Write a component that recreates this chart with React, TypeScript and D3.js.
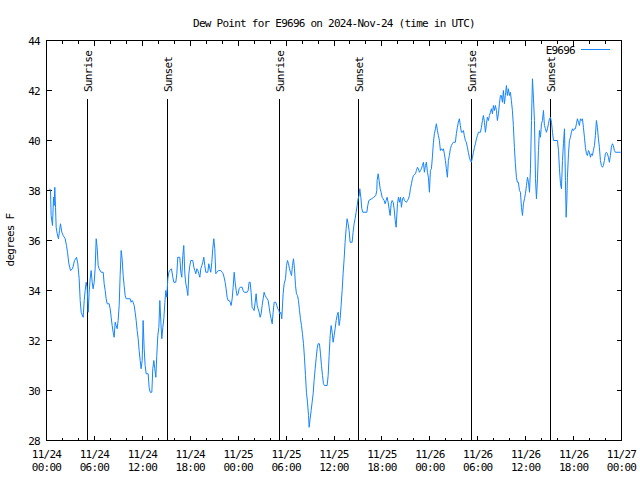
import React from "react";
import * as d3 from "d3";

const title = "Dew Point for E9696 on 2024-Nov-24 (time in UTC)";
const seriesName = "E9696";
const yLabel = "degrees F";
const yTicks = [28, 30, 32, 34, 36, 38, 40, 42, 44];
const xMajorTicks = [0, 6, 12, 18, 24, 30, 36, 42, 48, 54, 60, 66, 72];
const xTickDates = ["11/24", "11/24", "11/24", "11/24", "11/25", "11/25", "11/25", "11/25", "11/26", "11/26", "11/26", "11/26", "11/27"];
const xTickTimes = ["00:00", "06:00", "12:00", "18:00", "00:00", "06:00", "12:00", "18:00", "00:00", "06:00", "12:00", "18:00", "00:00"];
const sunHours = [5.1, 15.12, 29.14, 39.03, 53.19, 63.08];
const sunLabels = ["Sunrise", "Sunset", "Sunrise", "Sunset", "Sunrise", "Sunset"];

// hours since 2024-11-24 00:00 UTC
const hours = [
  0.42, 0.5, 0.58, 0.75, 0.88, 0.96, 1.04, 1.13, 1.21, 1.34, 1.5, 1.63, 1.75, 1.92, 2.09, 2.34, 2.5, 2.63, 2.8, 3.01,
  3.26, 3.51, 3.76, 3.92, 4.09, 4.22, 4.34, 4.59, 4.72, 4.84, 4.97, 5.09, 5.22, 5.34, 5.47, 5.59, 5.72, 5.84, 5.97, 6.09,
  6.22, 6.34, 6.47, 6.59, 6.84, 7.1, 7.22, 7.35, 7.47, 7.6, 7.85, 7.97, 8.1, 8.22, 8.35, 8.47, 8.6, 8.72, 8.85, 8.97,
  9.1, 9.22, 9.35, 9.47, 9.6, 9.72, 9.85, 9.98, 10.48, 10.6, 10.73, 10.85, 10.98, 11.1, 11.23, 11.35, 11.48, 11.6, 11.73, 11.85,
  11.98, 12.1, 12.23, 12.35, 12.48, 12.73, 12.85, 12.98, 13.19, 13.31, 13.44, 13.56, 13.69, 13.81, 13.94, 14.07, 14.19, 14.32, 14.44, 14.57,
  14.69, 14.82, 14.94, 15.07, 15.19, 15.32, 15.44, 15.65, 15.82, 15.94, 16.19, 16.32, 16.44, 16.69, 16.82, 16.94, 17.07, 17.19, 17.32, 17.45,
  17.57, 17.7, 17.82, 17.95, 18.07, 18.32, 18.45, 18.57, 18.7, 18.82, 18.95, 19.07, 19.2, 19.32, 19.45, 19.57, 19.7, 19.82, 19.95, 20.2,
  20.32, 20.45, 20.57, 20.7, 20.82, 20.95, 21.07, 21.2, 21.32, 21.57, 21.82, 21.99, 22.12, 22.24, 22.37, 22.49, 22.62, 22.74, 22.87, 23.0,
  23.12, 23.25, 23.37, 23.5, 23.62, 23.75, 23.87, 24.0, 24.12, 24.25, 24.5, 24.62, 24.75, 25.12, 25.25, 25.37, 25.5, 25.62, 25.75, 25.87,
  26.0, 26.13, 26.25, 26.38, 26.5, 26.63, 26.75, 26.88, 27.0, 27.13, 27.25, 27.38, 27.5, 27.63, 27.76, 27.88, 28.0, 28.13, 28.26, 28.38,
  28.51, 28.71, 28.84, 28.96, 29.09, 29.21, 29.34, 29.46, 29.63, 29.76, 29.93, 30.05, 30.18, 30.3, 30.43, 30.55, 30.68, 30.8, 30.93, 31.05,
  31.18, 31.3, 31.43, 31.55, 31.68, 31.8, 31.93, 32.05, 32.18, 32.3, 32.43, 32.55, 32.68, 32.81, 32.89, 33.01, 33.14, 33.26, 33.39, 33.51,
  33.64, 33.76, 33.89, 34.01, 34.18, 34.31, 34.43, 34.56, 34.68, 34.81, 35.14, 35.27, 35.39, 35.52, 35.64, 35.77, 35.89, 36.02, 36.14, 36.27,
  36.39, 36.52, 36.64, 36.77, 36.89, 37.02, 37.14, 37.27, 37.39, 37.52, 37.64, 37.77, 37.89, 38.02, 38.27, 38.39, 38.52, 38.64, 38.77, 38.9,
  39.02, 39.15, 39.23, 39.36, 39.48, 39.61, 40.11, 40.23, 40.36, 40.73, 40.98, 41.23, 41.36, 41.4, 41.53, 41.65, 41.78, 41.9, 42.03, 42.15,
  42.28, 42.4, 42.53, 42.65, 42.78, 42.9, 43.03, 43.16, 43.28, 43.41, 43.53, 43.66, 43.78, 43.95, 44.07, 44.2, 44.32, 44.45, 44.57, 44.7,
  44.82, 45.07, 45.2, 45.32, 45.45, 45.57, 45.7, 45.82, 45.95, 46.2, 46.32, 46.45, 46.57, 46.7, 46.82, 46.95, 47.07, 47.2, 47.32, 47.45,
  47.57, 47.7, 47.82, 47.95, 48.07, 48.2, 48.32, 48.45, 48.57, 48.7, 48.82, 48.95, 49.07, 49.2, 49.32, 49.45, 49.57, 49.7, 49.82, 49.95,
  50.07, 50.2, 50.32, 50.45, 50.57, 50.7, 50.82, 50.95, 51.2, 51.32, 51.45, 51.57, 51.7, 51.82, 51.95, 52.07, 52.2, 52.32, 52.45, 52.57,
  52.7, 52.82, 52.95, 53.07, 53.2, 53.34, 53.46, 53.59, 53.71, 53.84, 53.96, 54.09, 54.34, 54.46, 54.59, 54.71, 54.84, 54.96, 55.09, 55.21,
  55.34, 55.46, 55.59, 55.71, 55.84, 55.96, 56.09, 56.21, 56.34, 56.46, 56.59, 56.71, 56.84, 56.96, 57.09, 57.21, 57.34, 57.46, 57.59, 57.71,
  57.84, 57.96, 58.09, 58.21, 58.34, 58.46, 58.59, 58.71, 58.84, 58.96, 59.09, 59.22, 59.35, 59.47, 59.6, 59.72, 59.85, 59.97, 60.1, 60.23,
  60.35, 60.48, 60.6, 60.73, 60.85, 60.98, 61.1, 61.23, 61.35, 61.48, 61.6, 61.73, 61.85, 61.98, 62.1, 62.23, 62.35, 62.48, 62.6, 62.73,
  62.85, 62.98, 63.1, 63.23, 63.36, 63.48, 63.98, 64.11, 64.23, 64.36, 64.48, 64.61, 64.73, 64.86, 64.98, 65.07, 65.15, 65.23, 65.36, 65.48,
  65.61, 65.73, 65.86, 65.98, 66.11, 66.23, 66.36, 66.48, 66.61, 66.73, 66.86, 66.98, 67.11, 67.23, 67.36, 67.48, 67.61, 67.73, 67.86, 67.98,
  68.11, 68.23, 68.36, 68.48, 68.61, 68.73, 68.86, 68.98, 69.11, 69.23, 69.36, 69.48, 69.61, 69.73, 69.86, 69.98, 70.11, 70.23, 70.36, 70.48,
  70.61, 70.73, 70.86, 70.98, 71.11, 71.23, 71.9,
];

const dewF = [
  38.07, 38.0, 37.0, 36.6, 37.73, 37.4, 38.13, 37.33, 36.53, 36.27, 36.07, 36.4, 36.67, 36.33, 36.2, 36.07, 35.8, 35.53, 35.07, 34.8,
  34.87, 35.2, 35.33, 35.07, 34.47, 33.6, 33.13, 32.93, 33.6, 34.0, 34.33, 34.13, 33.13, 33.93, 34.47, 34.8, 34.33, 34.07, 34.33, 34.87,
  36.07, 35.73, 35.0, 34.87, 34.73, 34.73, 34.27, 34.0, 33.67, 33.47, 33.47, 33.27, 32.93, 32.6, 32.33, 32.13, 32.73, 32.6, 32.47, 32.8,
  33.4, 34.6, 35.6, 35.27, 34.6, 34.2, 33.8, 33.67, 33.67, 33.53, 33.6, 33.53, 33.4, 33.13, 32.8, 32.4, 32.07, 31.6, 31.2, 30.87,
  31.2, 32.8, 31.67, 31.0, 30.67, 30.67, 30.13, 29.93, 29.93, 30.87, 31.2, 30.87, 30.53, 31.4, 32.2, 32.53, 33.6, 32.73, 32.07, 32.53,
  32.87, 33.53, 34.0, 33.73, 34.47, 34.73, 34.8, 34.87, 34.53, 34.33, 34.33, 34.67, 35.33, 35.33, 34.73, 34.53, 35.4, 35.8, 34.67, 34.27,
  34.07, 33.8, 34.67, 35.0, 35.2, 35.2, 34.93, 34.8, 34.67, 34.87, 34.8, 34.67, 34.53, 34.87, 35.0, 35.13, 35.33, 35.0, 34.73, 34.73,
  35.07, 34.87, 34.73, 35.13, 35.67, 36.07, 35.67, 34.67, 34.73, 34.8, 34.8, 34.73, 34.67, 34.53, 34.33, 34.07, 33.73, 33.6, 33.6, 33.53,
  33.4, 33.67, 34.13, 34.73, 34.33, 34.0, 33.8, 33.87, 34.07, 34.13, 34.13, 34.0, 33.93, 33.93, 34.0, 34.33, 34.33, 33.93, 33.33, 33.27,
  33.2, 33.53, 33.87, 33.4, 33.27, 33.13, 32.93, 33.07, 33.4, 33.67, 33.93, 33.8, 33.73, 33.67, 33.6, 33.33, 33.07, 32.87, 32.67, 33.13,
  33.53, 33.53, 33.4, 33.27, 33.2, 33.07, 33.13, 32.87, 33.87, 34.27, 34.47, 35.0, 35.2, 35.07, 34.87, 34.73, 34.6, 35.0, 35.27, 34.87,
  34.2, 33.87, 33.8, 33.6, 33.2, 32.87, 32.6, 32.27, 31.87, 31.33, 30.6, 29.93, 29.53, 29.0, 28.53, 28.87, 29.2, 29.53, 29.87, 30.4,
  30.87, 31.27, 31.67, 31.87, 31.87, 31.47, 31.0, 30.6, 30.27, 30.2, 30.2, 30.6, 31.4, 32.2, 32.6, 32.33, 31.93, 32.2, 32.47, 32.8,
  33.0, 33.13, 32.6, 32.87, 33.4, 34.0, 34.67, 35.27, 35.93, 36.47, 36.87, 36.67, 36.4, 35.93, 35.93, 36.33, 36.67, 36.87, 37.13, 37.4,
  37.67, 37.8, 38.07, 37.73, 37.27, 37.13, 37.13, 37.4, 37.6, 37.67, 37.73, 37.8, 38.0, 38.4, 38.67, 38.4, 38.07, 37.93, 37.73, 37.67,
  37.6, 37.47, 37.6, 37.73, 37.53, 37.27, 37.0, 37.47, 37.6, 37.53, 37.27, 36.8, 36.53, 37.47, 37.73, 37.53, 37.73, 37.33, 37.67, 37.73,
  37.6, 37.53, 37.6, 37.67, 37.8, 38.07, 38.27, 38.47, 38.6, 38.67, 38.8, 38.93, 38.87, 38.73, 38.8, 38.87, 39.0, 39.13, 38.73, 39.0,
  39.13, 38.73, 38.53, 37.93, 38.8, 38.87, 39.33, 39.93, 40.27, 40.47, 40.67, 40.4, 40.2, 40.0, 39.6, 39.67, 39.6, 39.67, 39.47, 39.2,
  38.87, 38.53, 39.2, 39.4, 39.67, 39.8, 39.87, 39.93, 39.93, 40.27, 40.53, 40.73, 40.87, 40.6, 40.33, 40.33, 40.4, 40.2, 40.0, 39.93,
  39.73, 39.53, 39.33, 39.2, 39.13, 39.33, 39.53, 39.73, 39.87, 40.07, 40.2, 40.33, 40.33, 40.53, 40.8, 41.0, 40.73, 40.33, 40.67, 40.93,
  40.8, 41.0, 41.13, 41.27, 41.07, 41.4, 41.2, 41.4, 41.2, 40.8, 41.07, 41.47, 41.8, 41.8, 41.53, 42.0, 41.47, 41.8, 42.2, 41.8,
  42.07, 41.8, 41.93, 41.6, 41.2, 40.6, 39.73, 39.07, 38.53, 38.33, 38.33, 38.0, 37.93, 37.33, 37.0, 37.47, 37.67, 37.87, 38.2, 38.53,
  38.33, 37.93, 38.87, 40.8, 42.47, 41.67, 40.8, 38.47, 37.67, 38.47, 39.6, 40.4, 40.13, 40.67, 40.8, 41.2, 40.6, 40.47, 40.33, 40.47,
  40.67, 40.87, 40.93, 40.73, 40.33, 40.0, 40.0, 39.6, 38.87, 38.27, 38.07, 39.2, 39.87, 40.47, 38.4, 36.93, 37.53, 38.53, 39.47, 40.0,
  40.13, 40.33, 40.47, 40.4, 40.47, 40.47, 40.67, 40.87, 40.73, 40.6, 40.87, 40.8, 40.87, 40.53, 40.13, 39.73, 39.47, 39.4, 39.6, 39.53,
  39.33, 39.47, 39.4, 39.6, 39.8, 40.2, 40.8, 40.53, 40.07, 39.73, 39.2, 39.0, 38.93, 39.0, 39.2, 39.47, 39.53, 39.47, 39.33, 39.13,
  39.4, 39.73, 39.87, 39.8, 39.6, 39.53, 39.53,
];

const W = 640;
const H = 480;
const left = 46.5;
const right = 621.5;
const top = 40.5;
const bottom = 440.5;
const lineColor = "#1484ff";
const font = "'DejaVu Sans Mono', 'Liberation Mono', monospace";
const fs = 11;
const ls = "-0.75px";

export default function App() {
  const x = d3.scaleLinear().domain([0, 72]).range([left, right]);
  const y = d3.scaleLinear().domain([28, 44]).range([bottom, top]);
  const pts: [number, number][] = hours.map((h, i) => [h, dewF[i]]);
  const line = d3
    .line<[number, number]>()
    .x((d) => x(d[0]))
    .y((d) => y(d[1]));
  const minorTicks = d3.range(0, 73, 2).filter((h) => h % 6 !== 0);
  const txt = { fontFamily: font, fontSize: fs, letterSpacing: ls, fill: "#000" } as const;
  const px = (v: number) => Math.floor(v) + 0.5;

  return (
    <svg
      width={W}
      height={H}
      style={{ position: "absolute", left: 0, top: 0, background: "#fff" }}
    >
      <rect x={0} y={0} width={W} height={H} fill="#fff" />
      <text x={(left + right) / 2} y={27} textAnchor="middle" {...txt}>
        {title}
      </text>
      <text transform={`translate(14,240) rotate(-90)`} textAnchor="middle" {...txt}>
        {yLabel}
      </text>

      <g shapeRendering="crispEdges" stroke="#000" strokeWidth={1}>
        {yTicks.map((t) => (
          <g key={"y" + t}>
            <line x1={left} x2={left + 5} y1={px(y(t))} y2={px(y(t))} />
            <line x1={right} x2={right - 5} y1={px(y(t))} y2={px(y(t))} />
          </g>
        ))}
        {xMajorTicks.map((t) => (
          <g key={"xm" + t}>
            <line x1={px(x(t))} x2={px(x(t))} y1={bottom} y2={bottom - 5} />
            <line x1={px(x(t))} x2={px(x(t))} y1={top} y2={top + 5} />
          </g>
        ))}
        {minorTicks.map((t) => (
          <g key={"xn" + t}>
            <line x1={px(x(t))} x2={px(x(t))} y1={bottom} y2={bottom - 3} />
            <line x1={px(x(t))} x2={px(x(t))} y1={top} y2={top + 3} />
          </g>
        ))}
        {sunHours.map((h, i) => (
          <line key={"s" + i} x1={px(x(h))} x2={px(x(h))} y1={99} y2={bottom} />
        ))}
      </g>

      {yTicks.map((t) => (
        <text key={"yl" + t} x={40} y={y(t) + 4} textAnchor="end" {...txt}>
          {t}
        </text>
      ))}
      {xMajorTicks.map((t, i) => (
        <g key={"xl" + t}>
          <text x={x(t)} y={458} textAnchor="middle" {...txt}>
            {xTickDates[i]}
          </text>
          <text x={x(t)} y={471} textAnchor="middle" {...txt}>
            {xTickTimes[i]}
          </text>
        </g>
      ))}
      {sunHours.map((h, i) => (
        <text
          key={"sl" + i}
          transform={`translate(${Math.floor(x(h)) + 5},92) rotate(-90)`}
          textAnchor="start"
          {...txt}
        >
          {sunLabels[i]}
        </text>
      ))}

      <path d={line(pts) || ""} fill="none" stroke={lineColor} strokeWidth={1} />

      <text x={575} y={54} textAnchor="end" {...txt}>
        {seriesName}
      </text>
      <line x1={581} x2={610} y1={49.5} y2={49.5} stroke={lineColor} strokeWidth={1} shapeRendering="crispEdges" />

      <rect
        x={left}
        y={top}
        width={right - left}
        height={bottom - top}
        fill="none"
        stroke="#000"
        strokeWidth={1}
        shapeRendering="crispEdges"
      />
    </svg>
  );
}
